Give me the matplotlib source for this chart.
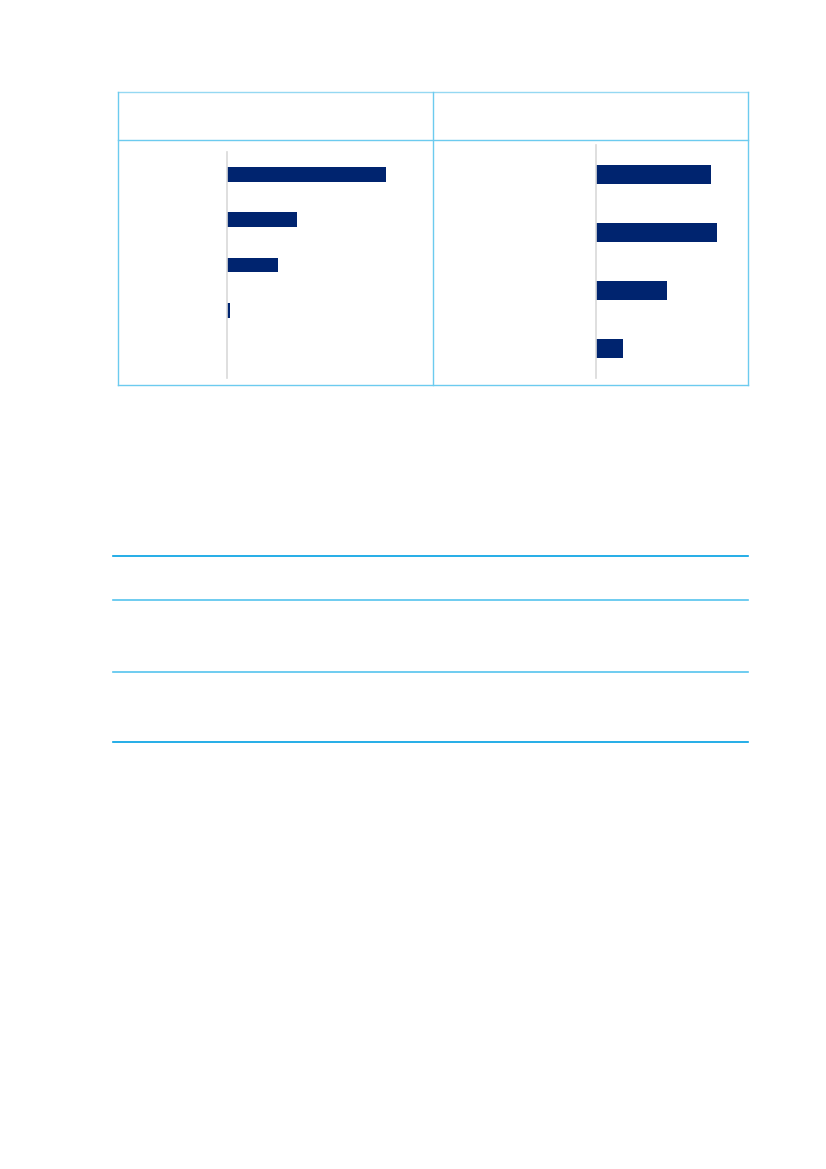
import matplotlib.pyplot as plt
from matplotlib.lines import Line2D

# left panel: five rows, the last one empty
left_cats = ['A', 'B', 'C', 'D', 'E']
left_vals = [53, 23.3, 17, 1, 0]

# right panel: four rows
right_cats = ['A', 'B', 'C', 'D']
right_vals = [38.3, 40.3, 23.7, 9]

W, H = 826, 1169
bar_color = '#00246f'
box_color = '#6ccbef'
rule_dark = '#009fe3'
rule_light = '#55c4ee'

fig = plt.figure(figsize=(W / 100, H / 100), dpi=100)


def px_axes(x0, y0, x1, y1):
    # pixel box (top-left origin) -> figure fraction axes
    return fig.add_axes([x0 / W, 1 - y1 / H, (x1 - x0) / W, (y1 - y0) / H])


def hline(x0, x1, y, color, lw=1.0):
    fig.add_artist(Line2D([x0 / W, x1 / W], [1 - y / H, 1 - y / H],
                          color=color, lw=lw, transform=fig.transFigure))


def vline(x, y0, y1, color, lw=1.0):
    fig.add_artist(Line2D([x / W, x / W], [1 - y0 / H, 1 - y1 / H],
                          color=color, lw=lw, transform=fig.transFigure))


def bar_panel(ax, cats, vals):
    pos = list(range(len(cats)))
    ax.barh(pos, vals, height=0.33, color=bar_color)
    ax.set_ylim(len(cats) - 0.5, -0.5)
    ax.set_xlim(0, 65)
    for s in ['top', 'right', 'bottom']:
        ax.spines[s].set_visible(False)
    ax.spines['left'].set_color('#d9d9d9')
    ax.spines['left'].set_linewidth(1.2)
    ax.set_xticks([])
    ax.set_yticks([])
    ax.patch.set_alpha(0)


ax1 = px_axes(227, 152, 422, 378)
bar_panel(ax1, left_cats, left_vals)

ax2 = px_axes(596, 145, 791, 378)
bar_panel(ax2, right_cats, right_vals)

# box around the two chart panels
hline(118, 748, 92, '#95d8f2')
hline(118, 748, 140, box_color)
hline(118, 748, 385, box_color)
vline(118, 92, 385, box_color)
vline(433, 92, 385, box_color)
vline(748, 92, 385, box_color)

# table rules below
hline(113, 748, 556, rule_dark, 1.2)
hline(113, 748, 600, rule_light, 1.2)
hline(113, 748, 672, rule_light, 1.2)
hline(113, 748, 742, rule_dark, 1.2)

fig.savefig('out.png', dpi=100)
